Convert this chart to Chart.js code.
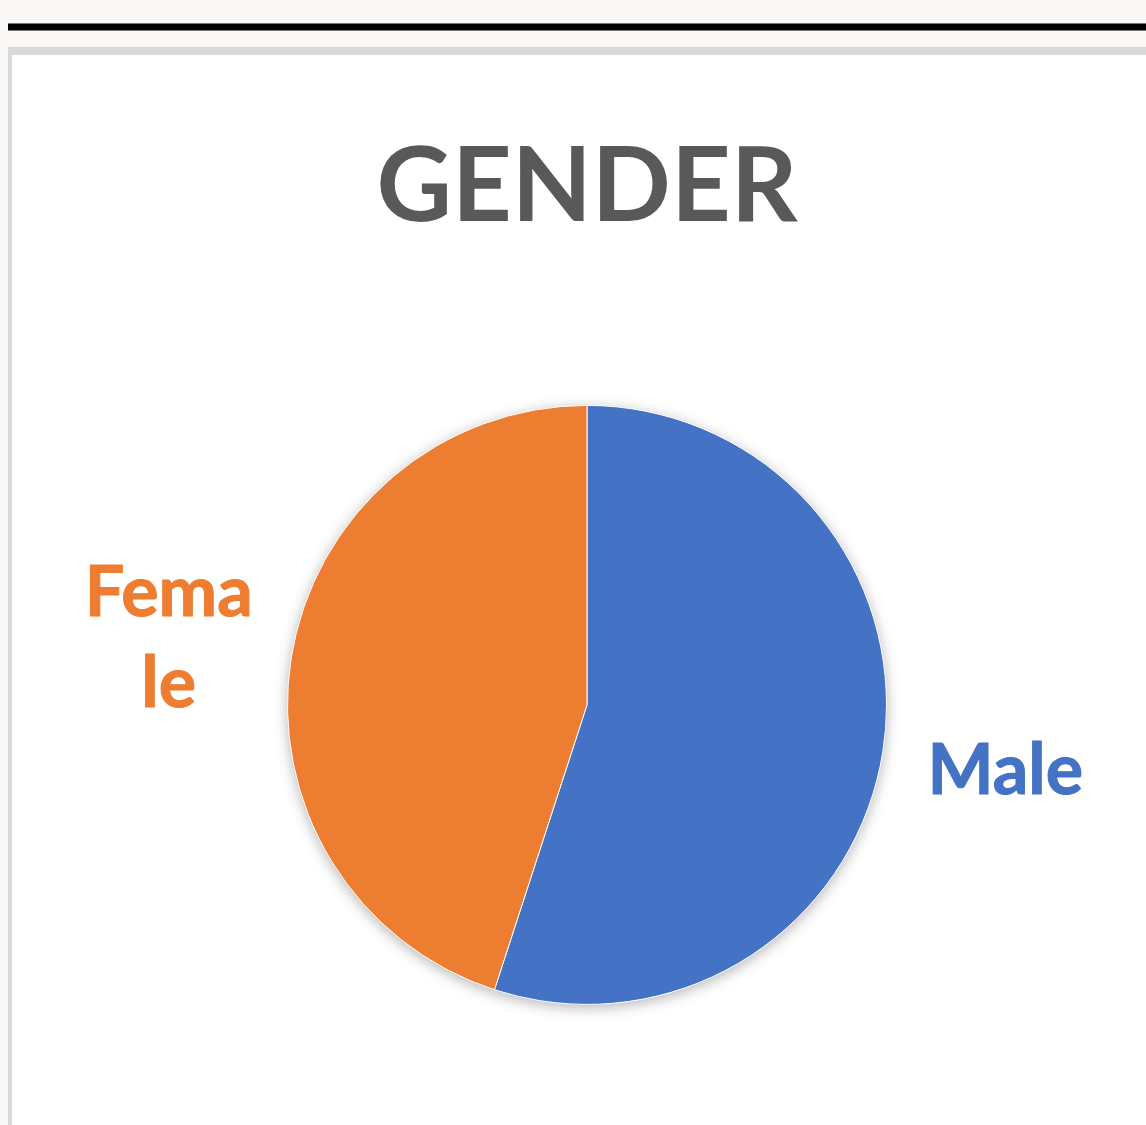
<!DOCTYPE html>
<html>
<head>
<meta charset="utf-8">
<script src="https://cdn.jsdelivr.net/npm/chart.js@4.4.0/dist/chart.umd.min.js"></script>
<style>
  html, body { margin: 0; padding: 0; background: #f9f8f6; overflow: hidden; }
  .barra { position: absolute; left: 8px; top: 23px; width: 1200px; height: 8px; background: #000; border-top: 1px solid #777; border-bottom: 1px solid #777; box-sizing: border-box; }
  .panel { position: absolute; left: 8px; top: 47px; width: 1200px; height: 1200px; background: #fff; border-left: 4px solid #d9d9d9; border-top: 8px solid #d9d9d9; }
  .lienzo { position: absolute; left: 12px; top: 55px; width: 1134px; height: 1070px; }
</style>
</head>
<body>
<div class="barra"></div>
<div class="panel"></div>
<div class="lienzo"><canvas id="grafico"></canvas></div>
<script>
const categorias = ['Male', 'Female'];
const valores = [55, 45];
const colores = ['#4472C4', '#ED7D31'];
const titulo = 'GENDER';

const fuente = 'Lato, "Open Sans", sans-serif';

// sombra suave detras del circulo
const sombraPlugin = {
  id: 'sombra',
  beforeDatasetsDraw(chart) {
    const arc = chart.getDatasetMeta(0).data[0];
    if (!arc) return;
    const { x, y, outerRadius } = arc.getProps(['x', 'y', 'outerRadius'], true);
    const c = chart.ctx;
    c.save();
    c.shadowColor = 'rgba(0,0,0,0.30)';
    c.shadowBlur = 14;
    c.shadowOffsetY = 3;
    c.beginPath();
    c.arc(x, y, outerRadius, 0, Math.PI * 2);
    c.fillStyle = '#fff';
    c.fill();
    c.restore();
  }
};

// etiquetas fuera del pastel, partidas por ancho como en Excel
const etiquetasPlugin = {
  id: 'etiquetas',
  afterDatasetsDraw(chart) {
    const c = chart.ctx;
    const meta = chart.getDatasetMeta(0);
    c.save();
    c.font = 'bold 70px ' + fuente;
    c.textAlign = 'center';
    c.textBaseline = 'middle';
    c.lineWidth = 1;
    const anchoMax = 172;
    meta.data.forEach((arc, i) => {
      const p = arc.getProps(['x', 'y', 'startAngle', 'endAngle', 'outerRadius'], true);
      const medio = (p.startAngle + p.endAngle) / 2;
      const dist = p.outerRadius + 124;
      const lx = p.x + Math.cos(medio) * dist;
      const ly = p.y + Math.sin(medio) * dist;
      const texto = categorias[i];
      const lineas = [];
      let actual = '';
      for (const ch of texto) {
        if (actual && c.measureText(actual + ch).width > anchoMax) {
          lineas.push(actual);
          actual = ch;
        } else {
          actual += ch;
        }
      }
      lineas.push(actual);
      const alto = 91;
      c.fillStyle = colores[i];
      c.strokeStyle = colores[i];
      lineas.forEach((l, k) => {
        const yy = ly + (k - (lineas.length - 1) / 2) * alto;
        c.fillText(l, lx, yy);
        c.strokeText(l, lx, yy); // un poco mas grueso, como Calibri negrita
      });
    });
    c.restore();
  }
};

new Chart(document.getElementById('grafico'), {
  type: 'pie',
  data: {
    labels: categorias,
    datasets: [{
      data: valores,
      backgroundColor: colores,
      borderColor: '#fff',
      borderWidth: 1
    }]
  },
  options: {
    responsive: true,
    maintainAspectRatio: false,
    animation: false,
    layout: { padding: { left: 275, right: 259, top: 0, bottom: 120 } },
    plugins: {
      legend: { display: false },
      tooltip: { enabled: false },
      title: {
        display: true,
        text: titulo,
        color: '#595959',
        font: { family: fuente, size: 104, weight: 'bold', lineHeight: 1.2 },
        padding: { top: 70, bottom: 155 }
      }
    }
  },
  plugins: [sombraPlugin, etiquetasPlugin]
});
</script>
</body>
</html>
